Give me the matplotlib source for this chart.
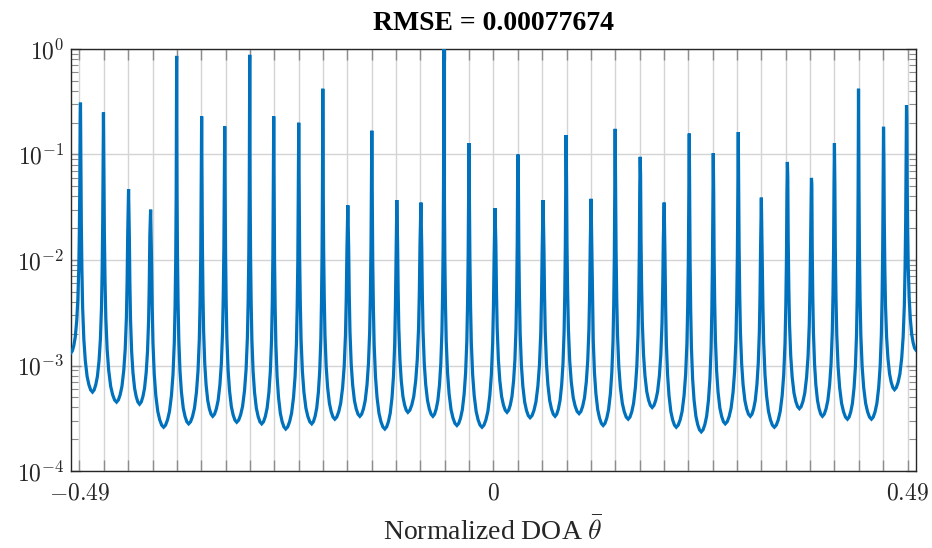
import numpy as np
import matplotlib
matplotlib.use('Agg')
import matplotlib.pyplot as plt
from matplotlib.ticker import LogLocator, NullFormatter, FuncFormatter

# peak locations (normalized DOA) and peak heights
peak_x = [-0.4888, -0.4616, -0.4319, -0.4058, -0.3750, -0.3454, -0.3181, -0.2885,
          -0.2601, -0.2305, -0.2020, -0.1724, -0.1440, -0.1144, -0.0859, -0.0587,
          -0.0290, 0.0018, 0.0290, 0.0587, 0.0859, 0.1155, 0.1440, 0.1736,
          0.2020, 0.2317, 0.2601, 0.2897, 0.3170, 0.3478, 0.3763, 0.4035,
          0.4320, 0.4616, 0.4888]
peak_v = [0.31, 0.25, 0.047, 0.030, 0.86, 0.23, 0.185, 0.88, 0.23, 0.20, 0.42, 0.033,
          0.168, 0.037, 0.035, 1.0, 0.128, 0.031, 0.10, 0.037, 0.153, 0.038, 0.175,
          0.095, 0.035, 0.158, 0.103, 0.163, 0.039, 0.085, 0.06, 0.128, 0.42, 0.183,
          0.294]

# minima between the peaks
trough_x = [-0.4746, -0.4461, -0.4189, -0.3904, -0.3608, -0.3323, -0.3039, -0.2743,
            -0.2459, -0.2151, -0.1878, -0.1582, -0.1286, -0.1013, -0.0717, -0.0433,
            -0.0136, 0.0160, 0.0433, 0.0729, 0.1013, 0.1298, 0.1594, 0.1878,
            0.2163, 0.2459, 0.2743, 0.3039, 0.3324, 0.3620, 0.3893, 0.4189,
            0.4473, 0.4746]
trough_v = [5.6e-4, 4.5e-4, 4.3e-4, 2.6e-4, 2.8e-4, 3.3e-4, 2.9e-4, 2.8e-4, 2.5e-4,
            2.8e-4, 3.1e-4, 3.3e-4, 2.5e-4, 3.6e-4, 3.3e-4, 2.7e-4, 2.6e-4, 3.6e-4,
            3.2e-4, 3.3e-4, 3.5e-4, 2.7e-4, 3.1e-4, 4.0e-4, 2.6e-4, 2.35e-4, 2.8e-4,
            3.3e-4, 2.6e-4, 3.9e-4, 3.3e-4, 3.1e-4, 3.1e-4, 5.9e-4]

# values at the plot edges
edge_x = [-0.5, 0.5]
edge_v = [1.32e-3, 1.4e-3]

# shape of one lobe side:
# fraction of the trough->peak distance, decades above the trough
lobe_u = [0.0, 0.15, 0.3, 0.45, 0.6, 0.72, 0.82, 0.88, 0.93, 0.965]
lobe_rise = [0.0, 0.02, 0.07, 0.15, 0.3, 0.5, 0.8, 1.15, 1.6, 2.2]

title_text = 'RMSE = 0.00077674'
xlabel_text = r'Normalized DOA $\bar{\theta}$'
grid_x = np.linspace(-0.49, 0.49, 35)
xtick_text = {0: r'$-0.49$', 17: r'$0$', 34: r'$0.49$'}


def side(tx, tv, px, pv):
    xs, ys = [], []
    top = np.log10(pv) - np.log10(tv)
    for u, r in zip(lobe_u, lobe_rise):
        if r < top:
            xs.append(tx + u * (px - tx))
            ys.append(10 ** (np.log10(tv) + r))
    return xs, ys


lo_x = [edge_x[0]] + trough_x + [edge_x[1]]
lo_v = [edge_v[0]] + trough_v + [edge_v[1]]

curve_x, curve_y = [], []
for k in range(len(peak_x)):
    xs, ys = side(lo_x[k], lo_v[k], peak_x[k], peak_v[k])
    curve_x += xs
    curve_y += ys
    curve_x.append(peak_x[k])
    curve_y.append(peak_v[k])
    xs, ys = side(lo_x[k + 1], lo_v[k + 1], peak_x[k], peak_v[k])
    curve_x += xs[::-1]
    curve_y += ys[::-1]

plt.rcParams['mathtext.fontset'] = 'cm'

fig = plt.figure(figsize=(9.32, 5.48), dpi=100)
ax = fig.add_axes([0.0762, 0.1405, 0.9066, 0.7701])

ax.plot(curve_x, curve_y, color='#0072BD', lw=2.3, solid_joinstyle='miter', zorder=3)

ax.set_yscale('log')
ax.set_xlim(-0.5, 0.5)
ax.set_ylim(1e-4, 1e0)

ax.set_xticks(grid_x)
ax.set_xticklabels([xtick_text.get(i, '') for i in range(len(grid_x))])
ax.yaxis.set_major_locator(LogLocator(base=10, numticks=10))
ax.yaxis.set_major_formatter(FuncFormatter(lambda v, p: r'$10^{%d}$' % round(np.log10(v))))
ax.yaxis.set_minor_locator(LogLocator(base=10, subs=np.arange(2, 10), numticks=10))
ax.yaxis.set_minor_formatter(NullFormatter())

ax.grid(True, which='major', color='#d4d4d4', lw=1.0, zorder=0)
ax.tick_params(axis='both', which='both', direction='in', top=True, right=True,
               color='#8c8c8c', labelsize=17, labelcolor='#262626')
ax.tick_params(axis='x', which='major', length=8, width=1.0, pad=7)
ax.tick_params(axis='y', which='major', length=7, width=1.0, pad=5)
ax.tick_params(axis='y', which='minor', length=5, width=0.8)

for s in ax.spines.values():
    s.set_color('#262626')
    s.set_linewidth(1.0)

ax.set_title(title_text, fontfamily='Liberation Serif', fontweight='bold',
             fontsize=20, pad=14, color='#000000')
ax.set_xlabel(xlabel_text, fontfamily='Liberation Serif', fontsize=20,
              labelpad=9, color='#262626')

fig.savefig('out.png', dpi=100)
